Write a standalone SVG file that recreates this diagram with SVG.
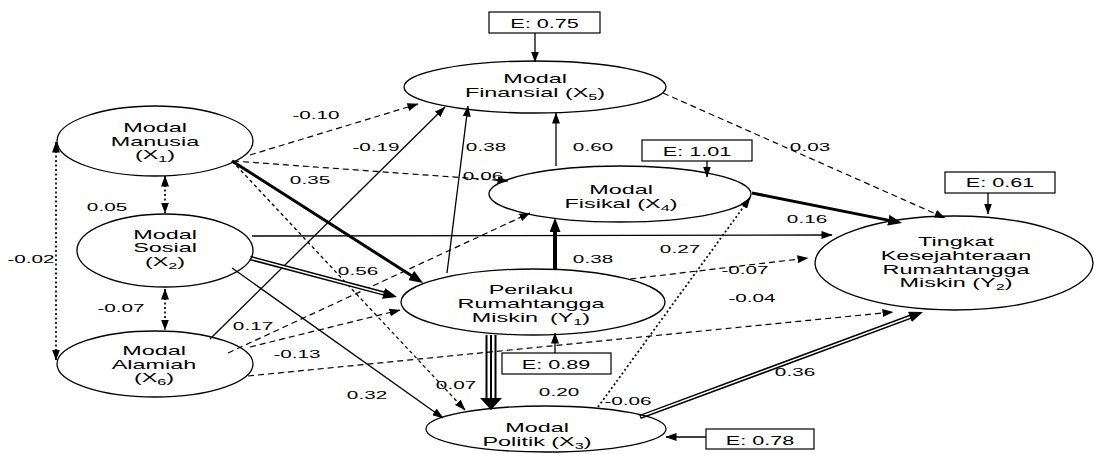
<svg xmlns="http://www.w3.org/2000/svg" width="1094" height="454" viewBox="0 0 1094 454">
<style>
.nd ellipse{fill:none;stroke:#000;stroke-width:1.3}
.bx rect{fill:#fff;stroke:#000;stroke-width:1.2}
text{font-family:"Liberation Sans",Arial,sans-serif;fill:#000;text-anchor:middle}
.n{font-size:13px}
.l{font-size:11.5px}
.e{font-size:12px}
.c path{fill:none;stroke:#000}
.c path.head{fill:#000;stroke:none}
.thin{stroke-width:1.3}
.dsh{stroke-width:1.2;stroke-dasharray:6 4}
.sdsh{stroke-width:1.3;stroke-dasharray:3.5 3}
.dot{stroke-width:1.7;stroke-dasharray:2 2.5}
.thk{stroke-width:3}
.thk4{stroke-width:4}
.dblo{stroke-width:4.5}
.c path.dbli{stroke:#fff;stroke-width:1.6}
.tri{stroke-width:2}
</style>
<defs>
<marker id="a" viewBox="0 0 11 8" markerWidth="11" markerHeight="8" refX="10.5" refY="4" markerUnits="userSpaceOnUse" orient="auto-start-reverse"><path d="M0,0 L11,4 L0,8 z" fill="#000"/></marker>
<marker id="ak" viewBox="0 0 14 11" markerWidth="14" markerHeight="11" refX="6" refY="5.5" markerUnits="userSpaceOnUse" orient="auto"><path d="M0,0 L14,5.5 L0,11 z" fill="#000"/></marker>
</defs>
<rect width="1094" height="454" fill="#fff"/>

<g id="connectors" class="c">
<path class="dot" d="M165,176 L165,213" marker-start="url(#a)" marker-end="url(#a)"/>
<path class="dot" d="M56,142 L56,360" marker-start="url(#a)" marker-end="url(#a)"/>
<path class="dot" d="M165,289 L165,330" marker-start="url(#a)" marker-end="url(#a)"/>
<path class="dsh" d="M250,155 L418,104" marker-end="url(#a)"/>
<path class="dsh" d="M233,161 L508,181" marker-end="url(#a)"/>
<path class="dsh" d="M228,353 L530,213" marker-end="url(#a)"/>
<path class="dsh" d="M250,347 L400,310" marker-end="url(#a)"/>
<path class="dsh" d="M248,376 L893,312" marker-end="url(#a)"/>
<path class="dsh" d="M630,279 L808,258" marker-end="url(#a)"/>
<path class="dsh" d="M663,93 L945,218" marker-end="url(#a)"/>
<path class="sdsh" d="M232,161 L465,410" marker-end="url(#a)"/>
<path class="dot" d="M598,407 L750,198" marker-end="url(#a)"/>
<path class="thin" d="M210,339 L445,107" marker-end="url(#a)"/>
<path class="thin" d="M447,273 L468,106" marker-end="url(#a)"/>
<path class="thin" d="M556,166 L556,113" marker-end="url(#a)"/>
<path class="thin" d="M252,236 L832,235" marker-end="url(#a)"/>
<path class="thin" d="M232,268 L443,418" marker-end="url(#a)"/>
<path class="thk" d="M232,161 L416.3,278.7" marker-end="url(#ak)"/>
<path class="thk" d="M752,193 L894.2,221.4" marker-end="url(#ak)"/>
<path class="thk4" d="M555,269 L555,226" marker-end="url(#ak)"/>
<path class="dblo" d="M250,258 L389.3,294.9" marker-end="url(#ak)"/>
<path class="dbli" d="M249,257.7 L383.5,293.4"/>
<path class="dblo" d="M640,417 L915.5,314.8" marker-end="url(#ak)"/>
<path class="dbli" d="M641,416.6 L909.9,316.9"/>
<path class="tri" d="M486.5,335 L486.5,400 M491,335 L491,400 M495.5,335 L495.5,400"/>
<path class="head" d="M480,398 L502,398 L491,410 z"/>
<path class="thin" d="M535,33 L535,62" marker-end="url(#a)"/>
<path class="thin" d="M707,161 L707,177" marker-end="url(#a)"/>
<path class="thin" d="M988,193 L988,214" marker-end="url(#a)"/>
<path class="thin" d="M555,353 L555,333" marker-end="url(#a)"/>
<path class="thin" d="M706,437 L666,437" marker-end="url(#a)"/>
</g>

<g id="X1" class="nd"><ellipse cx="155" cy="141" rx="98" ry="35"/>
<text class="n" transform="translate(155,132) scale(1.8,1)"><tspan x="0">Modal</tspan><tspan x="0" dy="13.6">Manusia</tspan><tspan x="0" dy="13.6">(X<tspan font-size="9" dy="3">1</tspan><tspan dy="-3">)</tspan></tspan></text></g>
<g id="X2" class="nd"><ellipse cx="165" cy="250.5" rx="88" ry="36.5"/>
<text class="n" transform="translate(165,238.5) scale(1.8,1)"><tspan x="0">Modal</tspan><tspan x="0" dy="14">Sosial</tspan><tspan x="0" dy="14">(X<tspan font-size="9" dy="3">2</tspan><tspan dy="-3">)</tspan></tspan></text></g>
<g id="X6" class="nd"><ellipse cx="155" cy="364" rx="98" ry="33"/>
<text class="n" transform="translate(154,355) scale(1.8,1)"><tspan x="0">Modal</tspan><tspan x="0" dy="13.7">Alamiah</tspan><tspan x="0" dy="13.7">(X<tspan font-size="9" dy="3">6</tspan><tspan dy="-3">)</tspan></tspan></text></g>
<g id="X5" class="nd"><ellipse cx="535" cy="87" rx="131" ry="26"/>
<text class="n" transform="translate(535,83.3) scale(1.8,1)"><tspan x="0">Modal</tspan><tspan x="0" dy="14">Finansial (X<tspan font-size="9" dy="3">5</tspan><tspan dy="-3">)</tspan></tspan></text></g>
<g id="X4" class="nd"><ellipse cx="620" cy="194" rx="131" ry="28"/>
<text class="n" transform="translate(621,194.3) scale(1.8,1)"><tspan x="0">Modal</tspan><tspan x="0" dy="14">Fisikal (X<tspan font-size="9" dy="3">4</tspan><tspan dy="-3">)</tspan></tspan></text></g>
<g id="Y1" class="nd"><ellipse cx="533" cy="302" rx="132" ry="33"/>
<text class="n" transform="translate(531,294) scale(1.8,1)"><tspan x="0">Perilaku</tspan><tspan x="0" dy="14">Rumahtangga</tspan><tspan x="0" dy="14">Miskin <tspan dx="3">(Y</tspan><tspan font-size="9" dy="3">1</tspan><tspan dy="-3">)</tspan></tspan></text></g>
<g id="X3" class="nd"><ellipse cx="546" cy="429" rx="120" ry="23"/>
<text class="n" transform="translate(537,431.7) scale(1.8,1)"><tspan x="0">Modal</tspan><tspan x="0" dy="14">Politik (X<tspan font-size="9" dy="3">3</tspan><tspan dy="-3">)</tspan></tspan></text></g>
<g id="Y2" class="nd"><ellipse cx="954" cy="263" rx="139" ry="47"/>
<text class="n" transform="translate(956,246) scale(1.8,1)"><tspan x="0">Tingkat</tspan><tspan x="0" dy="13.8">Kesejahteraan</tspan><tspan x="0" dy="13.8">Rumahtangga</tspan><tspan x="0" dy="13.8">Miskin (Y<tspan font-size="9" dy="3">2</tspan><tspan dy="-3">)</tspan></tspan></text></g>

<g id="E_X5" class="bx"><rect x="489" y="12" width="111" height="21"/><text class="e" transform="translate(544.5,27.5) scale(1.8,1)">E: 0.75</text></g>
<g id="E_X4" class="bx"><rect x="642" y="140" width="110" height="21"/><text class="e" transform="translate(697,155.5) scale(1.8,1)">E: 1.01</text></g>
<g id="E_Y2" class="bx"><rect x="945" y="172" width="110" height="21"/><text class="e" transform="translate(1000,187) scale(1.8,1)">E: 0.61</text></g>
<g id="E_Y1" class="bx"><rect x="502" y="353" width="109" height="21"/><text class="e" transform="translate(556,368.5) scale(1.8,1)">E: 0.89</text></g>
<g id="E_X3" class="bx"><rect x="706" y="429" width="108" height="20"/><text class="e" transform="translate(760,444.5) scale(1.8,1)">E: 0.78</text></g>

<g id="labels">
<text class="l" transform="translate(107,210.5) scale(1.8,1)">0.05</text>
<text class="l" transform="translate(31,263) scale(1.8,1)">-0.02</text>
<text class="l" transform="translate(121,312) scale(1.8,1)">-0.07</text>
<text class="l" transform="translate(316,119) scale(1.8,1)">-0.10</text>
<text class="l" transform="translate(376,151) scale(1.8,1)">-0.19</text>
<text class="l" transform="translate(486,151) scale(1.8,1)">0.38</text>
<text class="l" transform="translate(593,151) scale(1.8,1)">0.60</text>
<text class="l" transform="translate(810,151) scale(1.8,1)">0.03</text>
<text class="l" transform="translate(310,184) scale(1.8,1)">0.35</text>
<text class="l" transform="translate(483,180) scale(1.8,1)">0.06</text>
<text class="l" transform="translate(593,263) scale(1.8,1)">0.38</text>
<text class="l" transform="translate(680,252.5) scale(1.8,1)">0.27</text>
<text class="l" transform="translate(807,223) scale(1.8,1)">0.16</text>
<text class="l" transform="translate(745,274) scale(1.8,1)">-0.07</text>
<text class="l" transform="translate(752,301.5) scale(1.8,1)">-0.04</text>
<text class="l" transform="translate(358,274.5) scale(1.8,1)">0.56</text>
<text class="l" transform="translate(253,330) scale(1.8,1)">0.17</text>
<text class="l" transform="translate(297,357.5) scale(1.8,1)">-0.13</text>
<text class="l" transform="translate(367,399) scale(1.8,1)">0.32</text>
<text class="l" transform="translate(456,388.5) scale(1.8,1)">0.07</text>
<text class="l" transform="translate(559,396) scale(1.8,1)">0.20</text>
<text class="l" transform="translate(628,404.5) scale(1.8,1)">-0.06</text>
<text class="l" transform="translate(795,375.5) scale(1.8,1)">0.36</text>
</g>
</svg>
